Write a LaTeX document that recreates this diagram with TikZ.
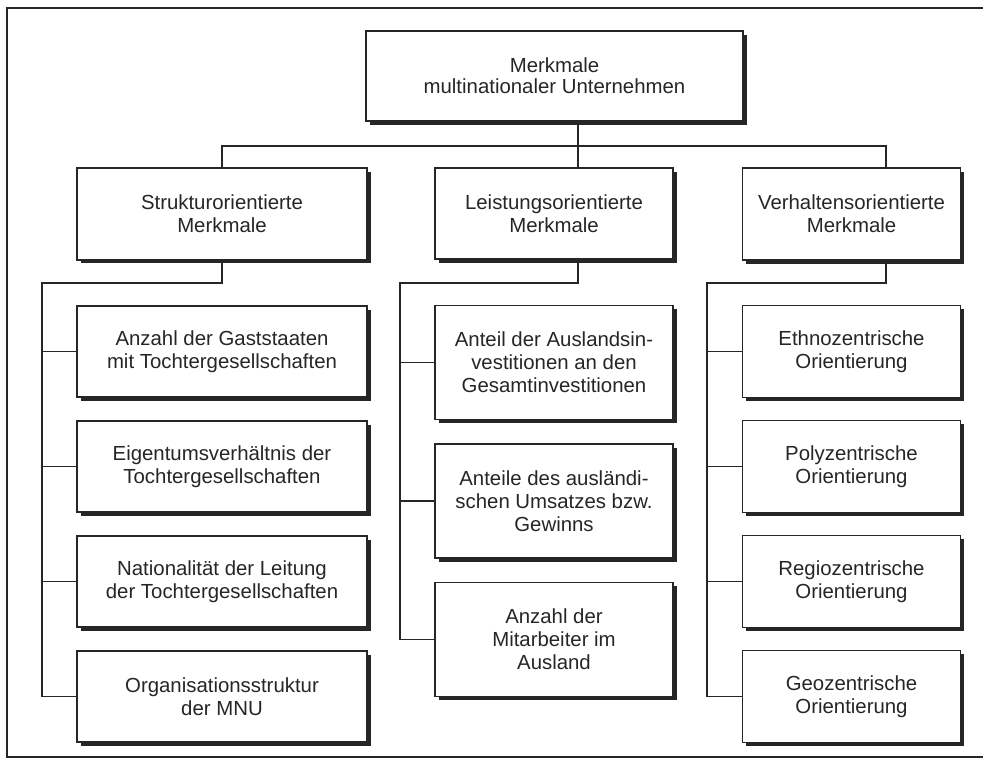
\documentclass[tikz,border=0pt]{standalone}
\usepackage{fontspec}
\setmainfont{Liberation Sans}
\usetikzlibrary{shadows}
\begin{document}
\begin{tikzpicture}[x=0.02cm,y=-0.02cm]
\tikzset{
  mbox/.style={draw=black!85, line width=0.95pt, fill=white, align=center, inner sep=0pt,
    text=black!85, font=\fontsize{11.6}{13}\selectfont,
    drop shadow={shadow xshift=0.075cm, shadow yshift=-0.075cm, fill=black!85, opacity=1}},
  topbox/.style={mbox, minimum width=7.54cm, minimum height=1.8cm, font=\fontsize{11.6}{11.8}\selectfont},
  sbox/.style={mbox, minimum width=5.8cm, minimum height=1.83cm},
  lbox/.style={mbox, minimum width=4.76cm, minimum height=2.28cm},
  lhead/.style={mbox, minimum width=4.76cm, minimum height=1.82cm},
  vbox/.style={mbox, minimum width=4.36cm, minimum height=1.84cm},
  conn/.style={draw=black!85, line width=0.95pt},
  frame/.style={draw=black!85, line width=1.4pt}
}
\useasboundingbox[fill=white] (0,0) rectangle (983,761);
\clip (0,0) rectangle (983,761);
\draw[frame] (7,8) rectangle (995,757);

% coordinates for connector positions
\coordinate (cx) at (578,0);
\coordinate (vx) at (886,0);
\coordinate (lx) at (42,0);
\coordinate (mx) at (400,0);
\coordinate (rx) at (707,0);
\coordinate (bus) at (0,146);
\coordinate (bus2) at (0,283);

% nodes
\node[topbox] (top) at (554.5,76) {Merkmale\\multinationaler Unternehmen};
\node[sbox] (S) at (222,214) {Strukturorientierte\\Merkmale};
\node[lhead] (L) at (554,213.5) {Leistungsorientierte\\Merkmale};
\node[vbox] (V) at (851.5,214) {Verhaltensorientierte\\Merkmale};

\node[sbox] (S1) at (222,351.5) {Anzahl der Gaststaaten\\mit Tochtergesellschaften};
\node[sbox] (S2) at (222,466.5) {Eigentumsverhältnis der\\Tochtergesellschaften};
\node[sbox] (S3) at (222,581.5) {Nationalität der Leitung\\der Tochtergesellschaften};
\node[sbox] (S4) at (222,696.5) {Organisationsstruktur\\der MNU};

\node[lbox] (M1) at (554,362.5) {Anteil der Auslandsin-\\vestitionen an den\\Gesamtinvestitionen};
\node[lbox] (M2) at (554,501) {Anteile des ausländi-\\schen Umsatzes bzw.\\Gewinns};
\node[lbox] (M3) at (554,639.5) {Anzahl der\\Mitarbeiter im\\Ausland};

\node[vbox] (V1) at (851.5,351.5) {Ethnozentrische\\Orientierung};
\node[vbox] (V2) at (851.5,466.5) {Polyzentrische\\Orientierung};
\node[vbox] (V3) at (851.5,581.5) {Regiozentrische\\Orientierung};
\node[vbox] (V4) at (851.5,696.5) {Geozentrische\\Orientierung};

% top level connectors
\draw[conn] (top.south -| cx) -- (L.north -| cx);
\draw[conn] (S.north) |- (bus -| vx) -- (V.north -| vx);

% left column
\draw[conn] (S.south) |- (bus2 -| lx) |- (S4.west);
\draw[conn] (lx |- S1.west) -- (S1.west);
\draw[conn] (lx |- S2.west) -- (S2.west);
\draw[conn] (lx |- S3.west) -- (S3.west);

% middle column
\draw[conn] (L.south -| cx) |- (bus2 -| mx) |- (M3.west);
\draw[conn] (mx |- M1.west) -- (M1.west);
\draw[conn] (mx |- M2.west) -- (M2.west);

% right column
\draw[conn] (V.south -| vx) |- (bus2 -| rx) |- (V4.west);
\draw[conn] (rx |- V1.west) -- (V1.west);
\draw[conn] (rx |- V2.west) -- (V2.west);
\draw[conn] (rx |- V3.west) -- (V3.west);
\end{tikzpicture}
\end{document}
